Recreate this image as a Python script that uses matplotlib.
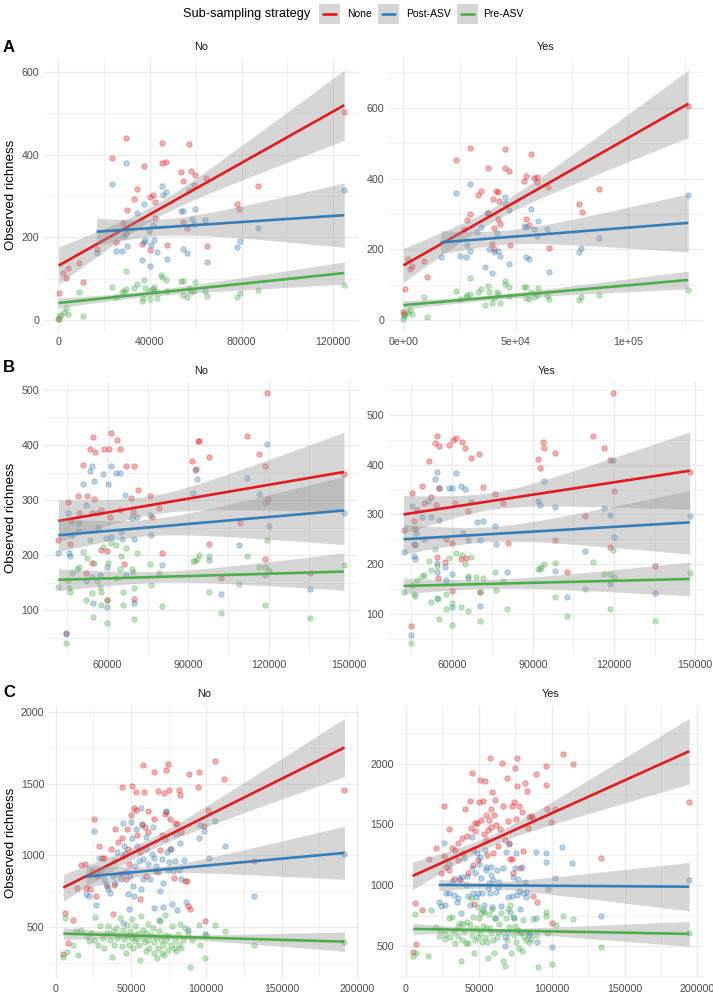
import numpy as np
import matplotlib
matplotlib.use("Agg")
import matplotlib.pyplot as plt
from matplotlib.patches import Rectangle

plt.rcParams['font.family'] = ['Liberation Sans', 'DejaVu Sans']

# ---------------- data ----------------
series_names = ["None", "Post-ASV", "Pre-ASV"]
series_colors = ["#E41A1C", "#377EB8", "#4DAF4A"]
facet_names = ["No", "Yes"]
row_labels = ["A", "B", "C"]

# Panel A / No
A_no_none = np.array([[145,2],[436,65],[2180,115],[3200,102],[4360,127],[9160,138],[10900,92],[16870,172],
    [23400,392],[25000,188],[29700,441],[29800,267],[29500,210],[28400,234],[33000,293],[34300,318],
    [36500,184],[37500,374],[39900,297],[40100,169],[41500,303],[42000,285],[42000,247],[45100,428],
    [45100,379],[46800,382],[47300,183],[53400,358],[54300,337],[54400,237],[56000,223],[56900,425],
    [57900,361],[59600,350],[59300,326],[64300,345],[64900,180],[78000,280],[79000,268],[87000,324],[124800,503]])
A_no_post = np.array([[16700,163],[23400,329],[25200,167],[27900,167],[28500,203],[29700,380],[29800,180],
    [34500,259],[36500,145],[37500,282],[38000,194],[37200,188],[40000,132],[40300,182],[39700,215],
    [41300,230],[41700,194],[43000,166],[45200,325],[45500,302],[46800,310],[47300,147],[53500,263],
    [54300,263],[54400,172],[56000,163],[56900,314],[58200,245],[59800,269],[59300,233],[64100,242],
    [65000,140],[78100,176],[79100,191],[87000,222],[124800,315]])
A_no_pre = np.array([[0,2],[436,10],[1160,13],[2470,19],[3350,29],[4360,16],[9160,67],[10900,10],
    [23400,81],[25200,57],[27900,68],[28600,70],[29500,75],[29700,120],[33000,78],[34500,88],[36500,47],
    [36900,53],[37500,98],[38000,78],[40100,51],[39900,73],[41500,76],[41700,81],[42000,70],[43000,53],
    [45000,110],[45400,104],[46800,96],[47300,70],[53500,94],[54300,94],[54400,62],[56000,57],[56900,78],
    [57900,67],[59800,93],[59300,70],[64100,70],[65000,59],[78100,55],[79100,65],[87000,72],[124800,85]])

# Panel A / Yes
A_yes_none = np.array([[0,25],[444,17],[740,88],[1920,173],[2960,146],[4000,154],[9170,167],[10650,122],
    [23500,452],[29700,487],[29700,300],[28400,284],[27000,257],[33000,354],[34500,365],[37600,430],
    [39800,341],[40400,202],[41100,364],[41900,361],[42300,338],[42200,286],[43000,273],[40200,261],
    [45000,482],[45300,431],[47000,422],[47200,214],[37400,302],[53500,393],[54400,406],[54600,286],
    [56000,268],[56900,470],[58000,402],[59600,405],[59400,390],[64200,376],[64800,205],[78100,329],
    [79300,307],[87000,371],[126600,604],[39200,216]])
A_yes_post = np.array([[16600,180],[23500,359],[25000,183],[28000,178],[28400,214],[29700,385],[29700,197],
    [32800,248],[34500,262],[36400,152],[37100,303],[37900,202],[39600,133],[40400,193],[41400,246],
    [41900,195],[42900,183],[45000,349],[45300,332],[46900,311],[47000,159],[53700,265],[54600,264],
    [54600,178],[55900,173],[56900,313],[58100,259],[59800,281],[59300,238],[64000,257],[64800,137],
    [78200,193],[79100,203],[87000,233],[126600,354]])
A_yes_pre = np.array([[0,3],[150,11],[740,19],[1920,25],[2960,28],[4000,17],[9300,67],[10650,9],
    [23500,82],[25000,60],[28000,66],[28400,72],[29700,119],[29700,74],[33000,80],[34500,88],[36400,44],
    [37600,98],[37900,79],[39600,50],[40400,64],[41400,79],[42000,74],[43000,50],[45000,110],[45300,104],
    [47000,95],[47000,68],[53500,95],[54600,95],[54600,64],[56000,60],[56900,79],[58100,66],[59800,92],
    [59300,72],[64000,69],[64800,60],[78200,57],[79100,66],[87000,72],[126600,85]])

# Panel B / No
B_no_none = np.array([[41600,227],[45400,297],[46000,220],[46400,261],[48800,308],[49500,276],[50900,364],
    [51900,168],[52200,308],[53400,392],[54000,277],[54400,414],[55200,388],[55000,302],[54000,186],
    [57400,282],[57500,210],[58500,393],[59600,119],[59600,208],[60500,393],[60700,269],[61400,422],
    [63600,409],[64600,393],[64700,282],[66100,183],[66700,362],[68700,303],[69600,279],[70000,362],
    [70000,121],[71200,318],[75900,307],[76400,270],[79000,286],[80300,203],[91600,370],[92800,356],
    [93700,408],[94100,408],[97800,379],[97800,220],[102400,159],[109200,259],[112100,416],[116500,384],
    [118600,362],[118600,192],[119400,494],[119900,302],[135300,167],[148100,348],[44370,58]])
B_no_post = np.array([[41600,204],[45400,276],[45700,204],[46000,198],[46600,236],[49300,259],[49200,244],
    [50900,329],[51900,291],[51900,153],[53400,352],[54000,362],[54400,112],[54000,161],[55000,335],
    [55900,277],[56500,250],[57100,164],[58400,347],[59400,231],[59600,178],[59600,105],[60200,329],
    [61400,232],[61400,362],[63000,350],[64700,350],[65100,241],[65500,230],[66600,310],[66700,163],
    [69000,268],[70000,230],[70000,112],[71000,270],[75800,273],[76000,236],[80300,181],[91900,312],
    [92400,355],[93500,338],[97800,191],[102400,129],[109000,219],[112000,340],[116500,311],[118600,294],
    [118600,164],[119600,401],[120000,253],[135300,138],[148100,277],[44370,56]])
B_no_pre = np.array([[41600,142],[45400,155],[45700,141],[46000,133],[46600,167],[48700,174],[49300,178],
    [50900,206],[51900,119],[52200,194],[53400,228],[54000,131],[54400,88],[54800,185],[55900,153],
    [57100,142],[57500,133],[57400,109],[58400,214],[59600,77],[59600,119],[60200,185],[61400,222],
    [63000,158],[63300,218],[64600,174],[64800,198],[65600,132],[65800,109],[66700,212],[68900,174],
    [69300,170],[70000,141],[70000,84],[71000,203],[75800,183],[76100,145],[79000,167],[80300,107],
    [91900,190],[92500,190],[93500,192],[93900,200],[97800,133],[97800,199],[102400,94],[109000,148],
    [112000,198],[116500,178],[118600,178],[118600,109],[119600,227],[120000,173],[135300,85],
    [148100,181],[44370,41]])

# Panel B / Yes
B_yes_none = np.array([[42100,269],[45400,343],[45800,286],[46400,270],[47000,309],[46200,239],[44800,75],
    [49100,357],[49800,324],[51400,408],[52300,336],[54100,318],[53800,443],[54600,458],[55300,437],
    [54400,215],[54900,172],[55200,353],[57800,250],[57500,204],[58800,440],[59900,145],[59900,242],
    [60400,450],[61600,453],[61000,324],[63700,446],[64900,433],[63500,210],[65800,307],[66900,414],
    [65100,213],[70100,421],[71400,356],[70400,143],[76000,342],[78900,322],[80700,242],[91900,412],
    [92700,393],[93700,445],[94000,433],[98000,423],[98000,249],[102500,185],[109100,297],[112100,458],
    [116400,434],[118600,410],[118600,234],[119500,544],[120000,347],[135100,196],[148000,385]])
B_yes_post = np.array([[42100,225],[45400,316],[45800,240],[46100,217],[46200,211],[46800,262],[48900,294],
    [49800,251],[51000,328],[52300,294],[53800,371],[54600,386],[55100,353],[55100,288],[54600,131],
    [54600,202],[54400,185],[57800,167],[57500,195],[58800,353],[59900,180],[59900,114],[60200,353],
    [61600,384],[63500,357],[64700,351],[64000,262],[66000,172],[65800,249],[66900,326],[69300,284],
    [70400,249],[70400,115],[71400,286],[76000,277],[76400,240],[80500,185],[91900,327],[92700,319],
    [94000,368],[98300,314],[98000,186],[102500,133],[109100,227],[116400,312],[118600,299],[118600,160],
    [119500,410],[120000,254],[135100,142],[148000,296],[44800,58]])
B_yes_pre = np.array([[42100,144],[45400,158],[45800,140],[46400,135],[47000,167],[48900,175],[49800,178],
    [51400,206],[52300,123],[52400,188],[53800,230],[54600,197],[54800,129],[55100,89],[57800,140],
    [57800,109],[58800,213],[59900,121],[59900,78],[61500,223],[63300,113],[63700,219],[64900,200],
    [66000,105],[66900,214],[65800,175],[69100,174],[70400,143],[70400,86],[71400,171],[76000,184],
    [76300,147],[79100,166],[80500,109],[91900,190],[92700,190],[93000,194],[94000,200],[98000,203],
    [98000,133],[102500,96],[109100,150],[112100,204],[116400,180],[118600,180],[118600,109],
    [119500,229],[120000,173],[135100,86],[148000,182],[44800,42]])

# Panel C / No
C_no_none = np.array([[6200,598],[7800,387],[4900,310],[11100,551],[13800,772],[16700,931],[19600,938],
    [19800,772],[22400,767],[23800,890],[25600,1255],[26700,716],[27300,856],[28900,1067],[30900,978],
    [31800,978],[33800,786],[36900,1043],[37800,587],[38900,793],[39600,1184],[41300,1095],[44000,1477],
    [44000,1119],[44400,875],[44400,997],[46700,837],[47300,1184],[47800,1043],[48900,938],[49800,1283],
    [50400,1484],[52200,1330],[53300,1442],[53500,1313],[53800,1142],[55800,1020],[56000,697],
    [57300,1219],[57800,1630],[58400,1442],[59100,1196],[60000,856],[60900,1161],[61500,1306],
    [64900,1578],[65500,1255],[66700,891],[68000,1447],[68900,1034],[70400,1142],[71800,1437],
    [72400,1290],[73300,1301],[73300,1595],[74400,1637],[75100,1458],[76000,1255],[76700,1043],
    [78200,844],[78900,1227],[80400,1219],[81800,1454],[82400,1423],[83300,1161],[85600,821],[87300,821],
    [87800,645],[88400,1564],[89300,627],[94900,1578],[94400,1477],[98400,1203],[99300,540],
    [101100,1313],[105600,1658],[112000,1531],[132000,962],[191800,1452]])
C_no_post = np.array([[20000,727],[22200,716],[25600,1168],[26700,652],[27600,868],[28900,981],[30000,898],
    [31800,837],[33300,798],[34400,762],[36200,739],[37800,856],[38900,962],[39600,809],[40400,1020],
    [42200,868],[43300,833],[44400,1227],[44900,528],[45600,1067],[46200,1015],[47100,880],[48000,727],
    [48700,622],[49300,856],[50000,1231],[50700,1119],[51300,786],[52200,716],[52900,926],[53500,1184],
    [54000,1067],[55100,962],[56400,1330],[56700,767],[57300,1212],[57800,973],[58200,833],[59600,1126],
    [60000,1043],[61100,938],[62700,833],[64000,1008],[64400,1196],[64900,634],[65500,978],[66700,926],
    [68000,880],[68400,551],[69500,751],[70700,973],[71100,641],[71500,809],[72700,1114],[73300,1306],
    [74000,1020],[74700,898],[75500,950],[76000,1043],[77100,657],[77800,891],[78900,962],[80000,1149],
    [80700,617],[81800,898],[82700,1086],[83300,833],[84900,969],[86700,673],[87800,481],[94900,1119],
    [95500,1208],[98400,1168],[99300,453],[101800,978],[105600,1236],[112200,1062],[132000,716],
    [191800,1008]])
C_no_pre = np.array([[4900,287],[6000,559],[7300,322],[11600,376],[13300,469],[14900,305],[16700,481],
    [20400,434],[22200,399],[23500,458],[25300,411],[26200,570],[28200,376],[29600,509],[31100,423],
    [32200,352],[33800,458],[34900,505],[36000,411],[37100,289],[37800,469],[38700,376],[40000,493],
    [40400,423],[41800,446],[42700,563],[44000,364],[44400,481],[45600,418],[46400,317],[47100,516],
    [47600,446],[48400,376],[49300,469],[50200,423],[50700,556],[51100,352],[51800,446],[52400,399],
    [52900,505],[53500,423],[54400,458],[55100,376],[55800,270],[56400,575],[57300,423],[58200,481],
    [59100,392],[59600,329],[60200,458],[60900,523],[61300,411],[62200,352],[63300,446],[64400,493],
    [65100,392],[65500,317],[66700,430],[67500,282],[68200,352],[68400,469],[69100,540],[70000,411],
    [70400,317],[71100,376],[71800,305],[72200,446],[72700,580],[73300,411],[74400,341],[75500,434],
    [76200,376],[77300,505],[78200,352],[79100,411],[80000,329],[81100,453],[81800,376],[82400,523],
    [83300,352],[84400,411],[85600,493],[87800,458],[89300,223],[90700,411],[95100,516],[95500,376],
    [99300,282],[100000,446],[105600,516],[112200,469],[132000,371],[191800,397]])

# Panel C / Yes
C_yes_none = np.array([[4500,454],[6300,856],[7200,517],[10800,796],[15800,1212],[20300,1302],[24300,1097],
    [25900,1650],[25900,1239],[27500,1152],[29300,1461],[29700,1124],[31500,1302],[32700,1048],
    [33800,1288],[35600,1206],[36000,1349],[37200,1042],[38300,1384],[39400,1261],[40500,1630],
    [41700,1403],[42800,1097],[43900,1691],[44600,1466],[45000,1918],[45700,1288],[46200,1165],
    [46800,845],[47300,1513],[47700,1447],[48900,1513],[49500,1206],[50400,1685],[50900,1863],
    [51800,1535],[52700,1691],[53400,1420],[54000,1857],[54700,1370],[55200,1576],[55800,1247],
    [56500,1453],[57000,1535],[57400,2049],[58100,1630],[58500,1480],[59000,1767],[59500,1261],
    [60400,1576],[61300,1699],[61900,1494],[63100,1321],[64200,1458],[66200,2008],[66700,1650],
    [67600,1370],[69100,1877],[69800,1527],[70500,1338],[71400,1212],[72700,1212],[72700,1652],
    [73400,1097],[74300,1685],[74800,1967],[75700,1543],[75900,2046],[76100,1817],[77700,1650],
    [78400,1138],[79900,1603],[80400,1280],[81700,1836],[82900,1770],[83800,1466],[84400,1562],
    [85600,1568],[86700,1562],[87400,911],[89400,1912],[90100,864],[96400,1978],[96200,1822],
    [96800,1630],[99800,1521],[100200,692],[102500,1630],[107400,2082],[114400,1995],[133500,1225],
    [194300,1685]])
C_yes_post = np.array([[22500,864],[24300,831],[25900,1349],[26600,837],[27500,933],[29300,1173],[29700,938],
    [31500,1037],[32700,919],[34900,864],[36000,892],[36500,1056],[37800,768],[38700,1069],[40100,1220],
    [41000,1001],[42100,1075],[42800,911],[43900,837],[45000,1398],[45500,1138],[46200,938],[47300,1097],
    [47900,905],[48400,1261],[49500,933],[50000,1173],[50900,1234],[51300,1056],[52200,933],[52900,796],
    [53600,837],[54000,1288],[54700,1146],[55200,1124],[56000,974],[56700,1015],[57400,933],[58100,1152],
    [58500,1083],[59200,823],[59900,1042],[60800,727],[61500,946],[62200,1124],[63100,988],[63900,1028],
    [65300,829],[66700,1138],[67600,500],[68200,577],[68900,1275],[69800,900],[70300,604],[70900,1343],
    [71600,782],[72500,911],[73200,1069],[73900,727],[74500,1138],[75200,1261],[75900,919],[76600,1048],
    [77700,954],[78400,801],[78800,618],[79700,1152],[80600,938],[81500,1028],[82400,900],[83300,946],
    [84400,591],[85100,604],[89000,727],[90100,536],[89400,1275],[96200,1266],[96200,1193],[97300,965],
    [100200,495],[102500,1061],[106900,1316],[114200,1179],[133500,746],[194300,1042]])
C_yes_pre = np.array([[4950,413],[6300,763],[7200,440],[15300,418],[16900,796],[20300,659],[22500,582],
    [24300,631],[26600,599],[27000,555],[29300,733],[30400,577],[31500,741],[32700,618],[33800,522],
    [35600,664],[36000,582],[37200,686],[37800,380],[38300,549],[39400,681],[40100,618],[41000,522],
    [41700,700],[42800,527],[43900,672],[44600,891],[45000,590],[46200,741],[46600,440],[47300,549],
    [48200,645],[49100,577],[49500,823],[50000,727],[50700,604],[51300,774],[52200,536],[52900,664],
    [53600,782],[54500,577],[55200,645],[55800,536],[56300,399],[56700,763],[57700,645],[58500,604],
    [59200,801],[59700,549],[60400,440],[61300,727],[62200,577],[63100,618],[63900,681],[65300,768],
    [66000,618],[66900,372],[67600,336],[68500,727],[69400,549],[70300,801],[70900,659],[71600,837],
    [72300,440],[73200,741],[73900,590],[74800,664],[75700,536],[76600,631],[77500,481],[78400,604],
    [79300,462],[80200,714],[81100,577],[82200,549],[83300,618],[84400,536],[85600,555],[87200,719],
    [89000,590],[90800,330],[96200,746],[96200,782],[96800,604],[100200,352],[103100,672],[107400,746],
    [114400,719],[133500,495],[194300,610]])

# Fitted lines (value at left / right end of each series) and CI half-widths (left, narrowest, right)
# order: None, Post-ASV, Pre-ASV
A_no_fit_start = [132, 214, 41.5];   A_no_fit_end = [520, 254, 114]
A_no_ci_start = [45, 33, 12];        A_no_ci_min = [17, 20, 7];    A_no_ci_end = [85, 78, 27]
A_yes_fit_start = [155, 220, 43];    A_yes_fit_end = [611, 275, 114]
A_yes_ci_start = [48, 33, 12];       A_yes_ci_min = [20, 20, 7];   A_yes_ci_end = [95, 82, 25]
B_no_fit_start = [262, 236, 155];    B_no_fit_end = [351, 281, 170]
B_no_ci_start = [38, 30, 20];        B_no_ci_min = [17, 15, 10];   B_no_ci_end = [72, 62, 34]
B_yes_fit_start = [300, 250, 156];   B_yes_fit_end = [388, 284, 170]
B_yes_ci_start = [38, 30, 16];       B_yes_ci_min = [17, 15, 9];   B_yes_ci_end = [78, 64, 34]
C_no_fit_start = [774, 851, 453];    C_no_fit_end = [1751, 1016, 397]
C_no_ci_start = [94, 80, 41];        C_no_ci_min = [40, 25, 15];   C_no_ci_end = [203, 185, 67]
C_yes_fit_start = [1075, 1001, 640]; C_yes_fit_end = [2101, 987, 599]
C_yes_ci_start = [114, 48, 45];      C_yes_ci_min = [45, 25, 18];  C_yes_ci_end = [270, 199, 103]

# Axis breaks
A_no_xticks = [0, 40000, 80000, 120000]
A_no_xlabels = ["0", "40000", "80000", "120000"]
A_yes_xticks = [0, 50000, 100000]
A_yes_xlabels = ["0e+00", "5e+04", "1e+05"]
A_yticks = [0, 200, 400, 600]
B_xticks = [60000, 90000, 120000, 150000]
B_yticks = [100, 200, 300, 400, 500]
C_xticks = [0, 50000, 100000, 150000, 200000]
C_yticks = [500, 1000, 1500, 2000]

# ---------------- figure ----------------
W, H = 713, 996
fig = plt.figure(figsize=(W / 100, H / 100), dpi=100)

overlay = fig.add_axes([0, 0, 1, 1])
overlay.set_xlim(0, W)
overlay.set_ylim(H, 0)
overlay.axis("off")

def rect(l, t, r, b):
    return [l / W, 1 - b / H, (r - l) / W, (b - t) / H]

def minors(ticks):
    step = ticks[1] - ticks[0]
    return [ticks[0] - step / 2] + [(a + b) / 2 for a, b in zip(ticks[:-1], ticks[1:])] + [ticks[-1] + step / 2]

def draw_panel(pos, data, fs, fe, cs, cm, ce, xt, xl, yt):
    ax = fig.add_axes(rect(*pos))
    for d, col in zip(data, series_colors):
        ax.scatter(d[:, 0], d[:, 1], s=15, color=col, alpha=0.35, linewidths=0.7,
                   edgecolors=col, zorder=2)
    for i, (d, col) in enumerate(zip(data, series_colors)):
        x0, x1 = d[:, 0].min(), d[:, 0].max()
        xs = np.linspace(x0, x1, 120)
        yfit = fs[i] + (fe[i] - fs[i]) * (xs - x0) / (x1 - x0)
        h0, hm, h1 = cs[i], cm[i], ce[i]
        r = np.sqrt((h1 ** 2 - hm ** 2) / (h0 ** 2 - hm ** 2))
        xm = (x1 + r * x0) / (1 + r)
        b = (h0 ** 2 - hm ** 2) / (x0 - xm) ** 2
        hw = np.sqrt(hm ** 2 + b * (xs - xm) ** 2)
        ax.fill_between(xs, yfit - hw, yfit + hw, color="#999999", alpha=0.4, lw=0, zorder=3 + 2 * i)
        ax.plot(xs, yfit, color=col, lw=1.9, zorder=4 + 2 * i, solid_capstyle="butt")
    ax.margins(0.05)
    ax.set_xticks(xt, labels=xl)
    ax.set_yticks(yt, labels=[str(v) for v in yt])
    ax.set_xticks(minors(xt), minor=True)
    ax.set_yticks(minors(yt), minor=True)
    ax.autoscale_view()
    ax.grid(which="major", color="#EBEBEB", lw=0.9)
    ax.grid(which="minor", color="#EBEBEB", lw=0.45)
    ax.set_axisbelow(True)
    for s in ax.spines.values():
        s.set_visible(False)
    ax.tick_params(which="both", length=0, labelsize=7.7, labelcolor="#4D4D4D", pad=3.5)
    ax.patch.set_alpha(0)
    return ax

rows = [
    dict(top=57.6, bot=331.8, L=(44.0, 358.6), R=(389.1, 702.5), lab_y=47, strip_y=47,
         data=([A_no_none, A_no_post, A_no_pre], [A_yes_none, A_yes_post, A_yes_pre]),
         fit=((A_no_fit_start, A_no_fit_end, A_no_ci_start, A_no_ci_min, A_no_ci_end),
              (A_yes_fit_start, A_yes_fit_end, A_yes_ci_start, A_yes_ci_min, A_yes_ci_end)),
         xt=((A_no_xticks, A_no_xlabels), (A_yes_xticks, A_yes_xlabels)), yt=A_yticks),
    dict(top=380.8, bot=655.0, L=(44.0, 358.2), R=(389.2, 704.0), lab_y=367, strip_y=371,
         data=([B_no_none, B_no_post, B_no_pre], [B_yes_none, B_yes_post, B_yes_pre]),
         fit=((B_no_fit_start, B_no_fit_end, B_no_ci_start, B_no_ci_min, B_no_ci_end),
              (B_yes_fit_start, B_yes_fit_end, B_yes_ci_start, B_yes_ci_min, B_yes_ci_end)),
         xt=((B_xticks, [str(v) for v in B_xticks]), (B_xticks, [str(v) for v in B_xticks])), yt=B_yticks),
    dict(top=706.0, bot=979.0, L=(49.2, 358.5), R=(398.7, 703.0), lab_y=692, strip_y=694,
         data=([C_no_none, C_no_post, C_no_pre], [C_yes_none, C_yes_post, C_yes_pre]),
         fit=((C_no_fit_start, C_no_fit_end, C_no_ci_start, C_no_ci_min, C_no_ci_end),
              (C_yes_fit_start, C_yes_fit_end, C_yes_ci_start, C_yes_ci_min, C_yes_ci_end)),
         xt=((C_xticks, [str(v) for v in C_xticks]), (C_xticks, [str(v) for v in C_xticks])), yt=C_yticks),
]

for ri, row in enumerate(rows):
    for fi, (lr, fname) in enumerate(zip((row["L"], row["R"]), facet_names)):
        fs, fe, cs, cm, ce = row["fit"][fi]
        xt, xl = row["xt"][fi]
        draw_panel((lr[0], row["top"], lr[1], row["bot"]), row["data"][fi],
                   fs, fe, cs, cm, ce, xt, xl, row["yt"])
        overlay.text((lr[0] + lr[1]) / 2, row["strip_y"], fname, ha="center", va="center",
                     fontsize=7.8, color="#1A1A1A")
    overlay.text(3, row["lab_y"], row_labels[ri], ha="left", va="center", fontsize=12,
                 fontweight="bold", color="black")
    overlay.text(11, (row["top"] + row["bot"]) / 2, "Observed richness", rotation=90,
                 ha="center", va="center", fontsize=9.5, color="black")

# legend
overlay.text(182.7, 14, "Sub-sampling strategy", ha="left", va="center", fontsize=9.2, color="black")
key_x = [318.5, 378.0, 456.5]
lab_x = [346.7, 405.7, 483.0]
for kx, lx, name, col in zip(key_x, lab_x, series_names, series_colors):
    overlay.add_patch(Rectangle((kx, 3.5), 21, 20.5, facecolor="#D6D6D6", edgecolor="none"))
    overlay.plot([kx + 3, kx + 18], [13.7, 13.7], color=col, lw=1.9, solid_capstyle="butt")
    overlay.text(lx, 14, name, ha="left", va="center", fontsize=7.5, color="black")

fig.savefig("out.png", dpi=100)
